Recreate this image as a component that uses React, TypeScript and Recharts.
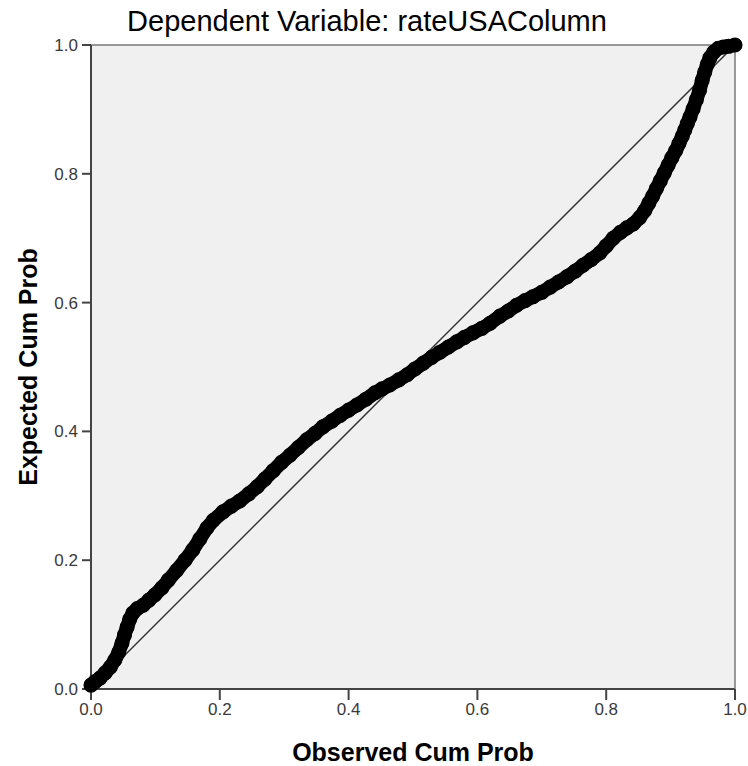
import { ScatterChart, Scatter, XAxis, YAxis, CartesianGrid, Label } from 'recharts'

const obsCumProb = [
    0.000, 0.006, 0.014, 0.022, 0.030, 0.037, 0.043, 0.048, 0.052, 0.056,
    0.060, 0.065, 0.072, 0.081, 0.090, 0.099, 0.110, 0.120, 0.133, 0.146,
    0.158, 0.169, 0.180, 0.190, 0.205, 0.218, 0.231, 0.245, 0.258, 0.270,
    0.283, 0.296, 0.309, 0.322, 0.335, 0.348, 0.360, 0.374, 0.387,
    0.400, 0.413, 0.427, 0.441, 0.452, 0.464, 0.478, 0.491, 0.503, 0.516,
    0.529, 0.542, 0.555, 0.568, 0.580, 0.593, 0.607, 0.620, 0.635, 0.648,
    0.661, 0.674, 0.686, 0.700, 0.713, 0.726, 0.739, 0.752, 0.764, 0.777,
    0.790, 0.800, 0.811, 0.822, 0.832, 0.842, 0.852, 0.860, 0.866, 0.872,
    0.878, 0.884, 0.890, 0.896, 0.902, 0.908, 0.913, 0.918, 0.922, 0.926,
    0.930, 0.935, 0.940, 0.945, 0.949, 0.953, 0.957, 0.961, 0.967, 0.974,
    0.982, 0.990, 1.000,
]
const expCumProb = [
    0.006, 0.011, 0.017, 0.025, 0.034, 0.045, 0.057, 0.071, 0.084, 0.096,
    0.108, 0.118, 0.125, 0.130, 0.138, 0.146, 0.157, 0.169, 0.184, 0.200,
    0.216, 0.233, 0.250, 0.262, 0.275, 0.284, 0.292, 0.303, 0.314, 0.326,
    0.339, 0.352, 0.363, 0.375, 0.387, 0.397, 0.407, 0.416, 0.425,
    0.433, 0.441, 0.450, 0.460, 0.466, 0.472, 0.480, 0.488, 0.497, 0.506,
    0.515, 0.523, 0.531, 0.539, 0.546, 0.553, 0.560, 0.568, 0.579, 0.587,
    0.596, 0.603, 0.609, 0.616, 0.624, 0.632, 0.640, 0.649, 0.658, 0.667,
    0.677, 0.688, 0.700, 0.709, 0.716, 0.722, 0.732, 0.743, 0.754, 0.765,
    0.777, 0.789, 0.801, 0.813, 0.825, 0.836, 0.847, 0.858, 0.868, 0.878,
    0.888, 0.901, 0.915, 0.930, 0.945, 0.958, 0.970, 0.980, 0.989, 0.995,
    0.997, 0.998, 1.000,
]
const diagonalX = [0, 1]
const diagonalY = [0, 1]
const axisTicks = [0, 0.2, 0.4, 0.6, 0.8, 1.0]

const ppData = obsCumProb.map((x, i) => ({ x, y: expCumProb[i] }))
const diagonal = diagonalX.map((x, i) => ({ x, y: diagonalY[i] }))

const FONT = '"Liberation Sans", Arial, sans-serif'
const TICK_COLOR = '#3a3a3a'

const XTick = ({ x, y, payload }: any) => (
    <text x={x} y={y + 15} textAnchor="middle" fill={TICK_COLOR} fontSize={17} fontFamily={FONT}>
        {Number(payload.value).toFixed(1)}
    </text>
)

const YTick = ({ x, y, payload }: any) => (
    <text x={x} y={y + 6} textAnchor="end" fill={TICK_COLOR} fontSize={17} fontFamily={FONT}>
        {Number(payload.value).toFixed(1)}
    </text>
)

export default function App() {
    return (
        <div style={{ position: 'absolute', left: 0, top: 0, width: 748, height: 766, background: '#fff' }}>
            <ScatterChart width={748} height={766} margin={{ top: 44, right: 12, bottom: 0, left: 0 }}>
                <CartesianGrid fill="#f0f0f0" stroke="none" horizontal={false} vertical={false} />
                <XAxis
                    type="number"
                    dataKey="x"
                    domain={[0, 1]}
                    ticks={axisTicks}
                    height={77}
                    tickSize={11}
                    tickMargin={0}
                    tick={<XTick />}
                    axisLine={{ stroke: '#444', strokeWidth: 2 }}
                    tickLine={{ stroke: '#444', strokeWidth: 2 }}
                >
                    <Label
                        content={({ viewBox }: any) => (
                            <text
                                x={viewBox.x + viewBox.width / 2}
                                y={761}
                                textAnchor="middle"
                                fontSize={25}
                                fontWeight="bold"
                                fontFamily={FONT}
                                fill="#000"
                            >
                                Observed Cum Prob
                            </text>
                        )}
                    />
                </XAxis>
                <XAxis
                    xAxisId="top"
                    orientation="top"
                    type="number"
                    dataKey="x"
                    domain={[0, 1]}
                    height={1}
                    tick={false}
                    tickLine={false}
                    axisLine={{ stroke: '#777', strokeWidth: 1.5 }}
                >
                    <Label
                        content={({ viewBox }: any) => (
                            <text
                                x={viewBox.x + viewBox.width / 2 - 46}
                                y={31}
                                textAnchor="middle"
                                fontSize={29}
                                fontFamily={FONT}
                                fill="#000"
                            >
                                Dependent Variable: rateUSAColumn
                            </text>
                        )}
                    />
                </XAxis>
                <YAxis
                    type="number"
                    dataKey="y"
                    domain={[0, 1]}
                    ticks={axisTicks}
                    width={91}
                    tickSize={9}
                    tickMargin={4}
                    tick={<YTick />}
                    axisLine={{ stroke: '#444', strokeWidth: 2 }}
                    tickLine={{ stroke: '#444', strokeWidth: 2 }}
                >
                    <Label
                        content={({ viewBox }: any) => {
                            const cy = viewBox.y + viewBox.height / 2
                            return (
                                <text
                                    x={37}
                                    y={cy}
                                    transform={`rotate(-90, 37, ${cy})`}
                                    textAnchor="middle"
                                    fontSize={25}
                                    fontWeight="bold"
                                    fontFamily={FONT}
                                    fill="#000"
                                >
                                    Expected Cum Prob
                                </text>
                            )
                        }}
                    />
                </YAxis>
                <YAxis
                    yAxisId="right"
                    orientation="right"
                    type="number"
                    dataKey="y"
                    domain={[0, 1]}
                    width={1}
                    tick={false}
                    tickLine={false}
                    axisLine={{ stroke: '#777', strokeWidth: 1.5 }}
                />

                {/* reference diagonal, drawn first so the points sit on top */}
                <Scatter
                    data={diagonal}
                    xAxisId="top"
                    yAxisId="right"
                    isAnimationActive={false}
                    line={{ stroke: '#333', strokeWidth: 1.5 }}
                    shape={() => <g />}
                />
                <Scatter
                    data={ppData}
                    isAnimationActive={false}
                    fill="#000"
                    line={{ stroke: '#000', strokeWidth: 14, strokeLinecap: 'round', strokeLinejoin: 'round' }}
                    shape={(p: any) => <circle cx={p.cx} cy={p.cy} r={6.8} fill="#000" stroke="#000" strokeWidth={1.5} />}
                />
            </ScatterChart>
        </div>
    )
}
